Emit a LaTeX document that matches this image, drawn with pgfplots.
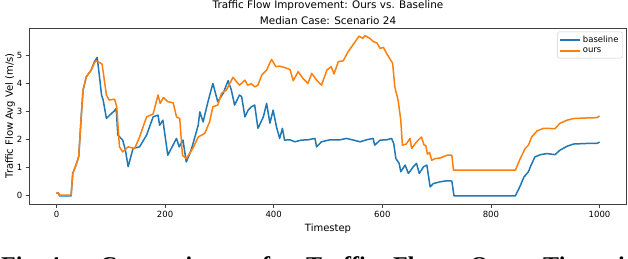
\documentclass[border=0pt]{standalone}
\usepackage{fontspec}
\setmainfont{DejaVu Sans}
\newfontfamily\capfont{Liberation Serif}
\usepackage{pgfplots}
\pgfplotsset{compat=1.18}
\definecolor{mplblue}{HTML}{1F77B4}
\definecolor{mplorange}{HTML}{FF7F0E}
\begin{document}
\begin{tikzpicture}
\useasboundingbox (0pt,0pt) rectangle (628pt,258pt);
\begin{axis}[
  at={(29.3pt,54pt)}, anchor=south west,
  width=597.4pt, height=176pt, scale only axis,
  xmin=-50, xmax=1050, ymin=-0.29, ymax=5.99,
  xtick={0,200,400,600,800,1000},
  ytick={0,1,2,3,4,5},
  tick pos=left, tick align=outside,
  major tick length=3.5pt,
  every tick/.style={black!75, line width=0.8pt},
  axis line style={black!75, line width=0.8pt},
  /pgf/number format/assume math mode=true,
  /pgf/number format/1000 sep={},
  tick label style={font=\fontsize{8.5}{10}\selectfont},
  xlabel={Timestep},
  ylabel={Traffic Flow Avg Vel (m/s)},
  label style={font=\fontsize{10}{12}\selectfont},
  every axis x label/.style={at={(axis description cs:0.5,0)}, anchor=center, yshift=-25pt},
  every axis y label/.style={at={(axis description cs:-0.032,0.5)}, rotate=90, anchor=center},
  legend style={at={(rel axis cs:0.9933,0.979)}, anchor=north east, draw=black!20,
    rounded corners=2pt, font=\fontsize{8.5}{10}\selectfont, inner xsep=2pt, inner ysep=2pt,
    row sep=0pt, cells={anchor=west}},
  legend image code/.code={\draw[#1,line width=1.5pt] (0pt,0pt) -- (20pt,0pt);},
  legend cell align=left,
]
\addplot[mplblue, line width=1.5pt, line join=round] coordinates {
(0,0.09) (3,0.1) (6,0.0) (27,0.0) (30,0.8) (36,1.1) (41,1.4) (46,2.94) (49,3.78) (55,4.25) (64,4.49) (70,4.79) (75,4.94) (80,4.13) (83,3.6) (86,3.42) (92,2.76) (98,2.88) (107,3.04) (110,3.12) (113,2.17) (122,1.99) (127,1.63) (132,1.04) (141,1.69) (153,1.75) (166,2.17) (178,2.82) (187,2.88) (190,2.52) (196,2.7) (205,1.45) (221,2.05) (226,1.75) (233,1.99) (239,1.21) (248,1.63) (261,2.52) (264,3.0) (270,2.64) (279,3.36) (288,4.01) (297,3.36) (307,3.66) (316,4.11) (322,3.78) (328,3.24) (337,3.6) (341,3.54) (347,2.82) (353,3.06) (359,3.18) (365,3.24) (371,2.41) (381,2.82) (387,3.3) (393,2.59) (399,3.06) (405,2.47) (411,2.05) (416,2.41) (420,1.99) (430,2.0) (439,1.93) (451,1.99) (463,2.0) (476,2.05) (479,1.75) (488,1.93) (503,2.0) (522,2.0) (534,2.05) (547,1.99) (559,1.93) (571,2.0) (583,2.05) (586,1.81) (596,1.99) (608,2.0) (617,2.05) (621,1.87) (625,1.33) (631,1.16) (634,0.86) (642,1.1) (648,0.8) (657,1.04) (663,1.16) (668,0.8) (676,1.04) (682,1.1) (688,0.32) (694,0.44) (706,0.5) (719,0.54) (728,0.53) (732,0.0) (845,0.0) (853,0.32) (861,0.68) (869,0.86) (874,1.1) (881,1.39) (891,1.47) (903,1.51) (918,1.47) (927,1.63) (940,1.77) (952,1.85) (976,1.87) (995,1.87) (1000,1.92)
};
\addlegendentry{baseline}
\addplot[mplorange, line width=1.5pt, line join=round] coordinates {
(0,0.09) (3,0.12) (6,0.03) (27,0.03) (30,0.8) (36,1.1) (41,1.4) (46,2.94) (49,3.78) (55,4.25) (64,4.49) (70,4.75) (73,4.82) (80,4.75) (84,4.7) (86,4.43) (92,3.6) (97,3.42) (107,3.45) (111,3.18) (116,1.75) (122,1.57) (132,1.75) (144,1.69) (153,2.1) (166,2.82) (178,2.92) (187,3.6) (191,3.3) (197,3.51) (205,3.36) (215,3.32) (221,2.82) (227,2.76) (232,1.45) (239,1.33) (251,1.69) (261,2.1) (273,2.23) (282,2.64) (288,3.18) (297,3.24) (304,3.66) (313,3.78) (325,4.23) (337,3.95) (347,4.13) (352,3.95) (359,4.0) (365,3.89) (371,3.95) (378,4.31) (387,4.49) (396,4.87) (404,4.61) (411,4.63) (420,4.58) (430,4.51) (436,4.11) (445,4.43) (454,4.19) (463,4.01) (470,4.37) (479,4.13) (488,3.95) (498,4.49) (506,4.61) (511,4.35) (519,4.79) (528,4.82) (537,5.14) (550,5.5) (557,5.7) (564,5.62) (568,5.72) (577,5.62) (584,5.5) (590,5.46) (596,5.26) (602,5.3) (608,5.08) (619,4.73) (623,3.89) (629,3.42) (634,2.7) (637,1.81) (644,1.85) (651,2.05) (654,1.69) (663,1.93) (672,2.1) (677,1.81) (680,1.8) (683,1.49) (687,1.55) (691,1.27) (697,1.33) (706,1.35) (719,1.45) (728,1.45) (731,0.92) (845,0.92) (854,1.33) (863,1.69) (869,1.81) (875,2.1) (885,2.32) (897,2.41) (918,2.4) (927,2.59) (940,2.7) (952,2.76) (976,2.78) (995,2.79) (1000,2.85)
};
\addlegendentry{ours}
\end{axis}
\node[font=\fontsize{10.4}{12}\selectfont] at (328pt,252pt) {Traffic Flow Improvement: Ours vs. Baseline};
\node[font=\fontsize{10.4}{12}\selectfont] at (328pt,237pt) {Median Case: Scenario 24};
\begin{scope}[every node/.style={anchor=base west, inner sep=0pt, font=\capfont\bfseries\fontsize{24}{28}\selectfont}]
\node at (1pt,-15pt) {Fig.};
\node at (48pt,-15pt) {4:};
\node at (100pt,-15pt) {Comparison};
\node at (250pt,-15pt) {of};
\node at (306pt,-15pt) {Traffic};
\node at (393pt,-15pt) {Flow};
\node at (470pt,-15pt) {Over};
\node at (543pt,-15pt) {Time};
\node at (618pt,-15pt) {in};
\end{scope}
\end{tikzpicture}
\end{document}
